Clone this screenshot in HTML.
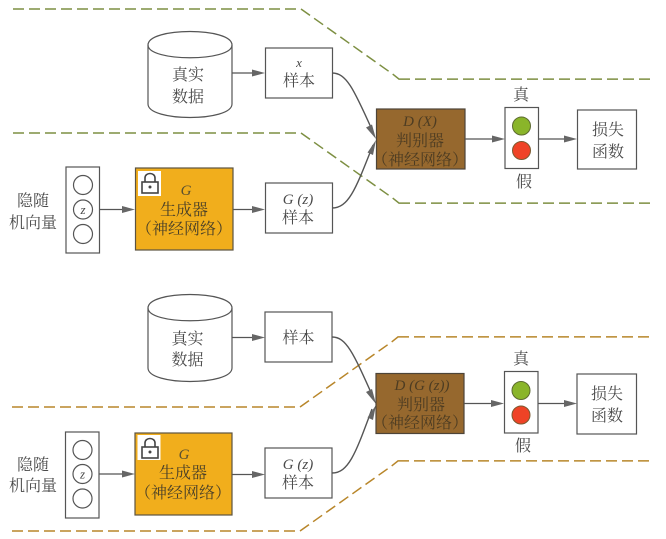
<!DOCTYPE html>
<html>
<head>
<meta charset="utf-8">
<style>
html,body{margin:0;padding:0;background:#fff;width:666px;height:539px;overflow:hidden}
svg{display:block;filter:blur(0.35px)}
text{font-family:"Liberation Serif","Noto Serif CJK SC",serif;text-anchor:middle;fill:#4a4a4a;font-size:16px}
.i{font-style:italic;font-size:15px}
.s{font-size:15px}
.b{fill:#fff;stroke:#555;stroke-width:1.2}
.l{stroke:#555;stroke-width:1.2;fill:none}
.ah{fill:#666;stroke:none}
</style>
</head>
<body>
<svg width="666" height="539" viewBox="0 0 666 539" xmlns="http://www.w3.org/2000/svg">
<rect width="666" height="539" fill="#fff"/>

<!-- dashed lines, drawn as explicit segments -->
<g fill="none" stroke-width="1.5">
<path stroke="#7d8f42" d="M13 9h11m5 0h11m5 0h11m5 0h11m5 0h11m5 0h11m5 0h11m5 0h11m5 0h11m5 0h11m5 0h11m5 0h11m5 0h11m5 0h11m5 0h11m5 0h11m5 0h11m5 0h11m5 0l9 6.4m4.100 2.900l9 6.400m4.100 2.900l9 6.400m4.100 2.900l9 6.400m4.100 2.900l9 6.400m4.100 2.900l9 6.400m4.100 2.900l9 6.400m4.100 2.900l6.300 5h11m5 0h11m5 0h11m5 0h11m5 0h11m5 0h11m5 0h11m5 0h11m5 0h11m5 0h11m5 0h11m5 0h11m5 0h11m5 0h11m5 0h11m5 0h11"/>
<path stroke="#7d8f42" d="M13 133h11m5 0h11m5 0h11m5 0h11m5 0h11m5 0h11m5 0h11m5 0h11m5 0h11m5 0h11m5 0h11m5 0h11m5 0h11m5 0h11m5 0h11m5 0h11m5 0h11m5 0h11m5 0l9 6.400m4.100 2.900l9 6.400m4.100 2.900l9 6.400m4.100 2.900l9 6.400m4.100 2.900l9 6.400m4.100 2.900l9 6.400m4.100 2.900l9 6.400m4.100 2.900l6.300 5h11m5 0h11m5 0h11m5 0h11m5 0h11m5 0h11m5 0h11m5 0h11m5 0h11m5 0h11m5 0h11m5 0h11m5 0h11m5 0h11m5 0h11m5 0h11"/>
<path stroke="#b8862a" d="M12 407h11m5 0h11m5 0h11m5 0h11m5 0h11m5 0h11m5 0h11m5 0h11m5 0h11m5 0h11m5 0h11m5 0h11m5 0h11m5 0h11m5 0h11m5 0h11m5 0h11m5 0h11m5 0l9 -6.400m4.100 -2.900l9 -6.400m4.100 -2.900l9 -6.400m4.100 -2.900l9 -6.400m4.100 -2.900l9 -6.400m4.100 -2.900l9 -6.400m4.100 -2.900l9 -6.400m4.100 -2.900l6.300 -5h11m5 0h11m5 0h11m5 0h11m5 0h11m5 0h11m5 0h11m5 0h11m5 0h11m5 0h11m5 0h11m5 0h11m5 0h11m5 0h11m5 0h11m5 0h11"/>
<path stroke="#b8862a" d="M12 531h11m5 0h11m5 0h11m5 0h11m5 0h11m5 0h11m5 0h11m5 0h11m5 0h11m5 0h11m5 0h11m5 0h11m5 0h11m5 0h11m5 0h11m5 0h11m5 0h11m5 0h11m5 0l9 -6.400m4.100 -2.900l9 -6.400m4.100 -2.900l9 -6.400m4.100 -2.900l9 -6.400m4.100 -2.900l9 -6.400m4.100 -2.900l9 -6.400m4.100 -2.900l9 -6.400m4.100 -2.900l6.300 -5h11m5 0h11m5 0h11m5 0h11m5 0h11m5 0h11m5 0h11m5 0h11m5 0h11m5 0h11m5 0h11m5 0h11m5 0h11m5 0h11m5 0h11m5 0h11"/>
</g>

<!-- TOP -->
<path class="b" d="M148 45C148 27 232 27 232 45V104C232 122 148 122 148 104Z"/>
<path class="l" d="M148 45C148 62 232 62 232 45"/>
<text x="188" y="80">真实</text>
<text x="188" y="102">数据</text>
<path class="l" d="M232 73H255"/><polygon class="ah" points="265,73 252,69.500 252,76.500"/>
<rect class="b" x="265.500" y="48" width="67" height="50"/>
<text class="i" x="299" y="67" style="font-size:13px">x</text>
<text x="299" y="86">样本</text>

<rect class="b" x="66" y="167" width="33.500" height="86"/>
<circle class="b" cx="83" cy="185" r="9.500"/>
<circle class="b" cx="83" cy="209.500" r="9.500"/>
<circle class="b" cx="83" cy="234" r="9.500"/>
<text class="i" x="83" y="214" style="font-size:13px">z</text>
<text x="33" y="206">隐随</text>
<text x="33" y="228">机向量</text>
<path class="l" d="M100 209.500H125"/><polygon class="ah" points="135,209.500 122,206 122,213"/>
<rect x="135.500" y="168" width="97.500" height="82" fill="#f1ae1c" stroke="#5c5340" stroke-width="1.200"/>
<rect x="138" y="171" width="23" height="25" fill="#fff"/>
<rect x="142" y="182" width="16" height="11" fill="none" stroke="#444" stroke-width="1.600"/>
<path d="M145 182V178C145 172 155 172 155 178V182" fill="none" stroke="#444" stroke-width="1.600"/>
<circle cx="150" cy="187" r="1.500" fill="#444"/>
<text class="i" x="186" y="195" style="fill:#5a5030">G</text>
<text x="184" y="215" style="fill:#4a4028">生成器</text>
<text x="184" y="234" style="fill:#4a4028">（神经网络）</text>
<path class="l" d="M233 209.500H255"/><polygon class="ah" points="265,209.500 252,206 252,213"/>
<rect class="b" x="265.500" y="183" width="67" height="50"/>
<text x="298" y="204" class="s" style="font-style:italic">G (z)</text>
<text x="298" y="223">样本</text>

<path class="l" d="M332 73C346 73 353 87 373 132" style="stroke-width:1.400"/>
<path class="l" d="M332 208C349 208 356 188 373 145" style="stroke-width:1.400"/>
<polygon class="ah" points="376,139 366,127.500 372,124.500"/>
<polygon class="ah" points="376,140 367.500,152.500 373,155"/>

<rect x="376.500" y="109" width="88.500" height="60" fill="#96682e" stroke="#4d4438" stroke-width="1.200"/>
<text class="i" x="420" y="126" style="fill:#4d3c22">D (X)</text>
<text x="420" y="146" style="fill:#4d3c22">判别器</text>
<text x="420" y="165" style="fill:#4d3c22">（神经网络）</text>
<path class="l" d="M465 139H495"/><polygon class="ah" points="505,139 492,135.500 492,142.500"/>
<rect class="b" x="505" y="107.500" width="33.500" height="61"/>
<circle cx="521.500" cy="126" r="9" fill="#8ab52a" stroke="#5d6b30" stroke-width="1"/>
<circle cx="521.500" cy="150.500" r="9" fill="#ef4326" stroke="#7c5a30" stroke-width="1"/>
<text x="521" y="100">真</text>
<text x="524" y="187">假</text>
<path class="l" d="M538.500 139H567"/><polygon class="ah" points="577,139 564,135.500 564,142.500"/>
<rect class="b" x="577.500" y="110" width="59" height="59"/>
<text x="608" y="135">损失</text>
<text x="608" y="157">函数</text>

<!-- BOTTOM -->
<path class="b" d="M148 308C148 290 232 290 232 308V368C232 386 148 386 148 368Z"/>
<path class="l" d="M148 308C148 325 232 325 232 308"/>
<text x="187.500" y="344">真实</text>
<text x="187.500" y="365">数据</text>
<path class="l" d="M232 337.500H255"/><polygon class="ah" points="265,337.500 252,334 252,341"/>
<rect class="b" x="265" y="312" width="67" height="50"/>
<text x="298.500" y="343">样本</text>

<rect class="b" x="65.500" y="432" width="33.500" height="86"/>
<circle class="b" cx="82.500" cy="450" r="9.500"/>
<circle class="b" cx="82.500" cy="474" r="9.500"/>
<circle class="b" cx="82.500" cy="498.500" r="9.500"/>
<text class="i" x="82.500" y="478.500" style="font-size:13px">z</text>
<text x="33" y="470">隐随</text>
<text x="33" y="491">机向量</text>
<path class="l" d="M99 474H125"/><polygon class="ah" points="135,474 122,470.500 122,477.500"/>
<rect x="135" y="433" width="97" height="82" fill="#f1ae1c" stroke="#5c5340" stroke-width="1.200"/>
<rect x="137.500" y="435" width="23" height="25" fill="#fff"/>
<rect x="142" y="447" width="16" height="11" fill="none" stroke="#444" stroke-width="1.600"/>
<path d="M145 447V443C145 437 155 437 155 443V447" fill="none" stroke="#444" stroke-width="1.600"/>
<circle cx="150" cy="452" r="1.500" fill="#444"/>
<text class="i" x="184" y="459" style="fill:#5a5030">G</text>
<text x="183" y="478" style="fill:#4a4028">生成器</text>
<text x="183" y="498" style="fill:#4a4028">（神经网络）</text>
<path class="l" d="M232 474.500H255"/><polygon class="ah" points="265,474.500 252,471 252,478"/>
<rect class="b" x="265" y="448" width="67" height="50"/>
<text x="298" y="469" class="s" style="font-style:italic">G (z)</text>
<text x="298" y="488">样本</text>

<path class="l" d="M332 337C346 337 353 352 373 397" style="stroke-width:1.400"/>
<path class="l" d="M332 473C349 473 356 452 372 409" style="stroke-width:1.400"/>
<polygon class="ah" points="376,404 366,392 372,389"/>
<polygon class="ah" points="376,405 367.500,417.500 373,420"/>

<rect x="376" y="373.500" width="88" height="60" fill="#96682e" stroke="#4d4438" stroke-width="1.200"/>
<text class="i" x="422" y="390" style="fill:#4d3c22">D (G (z))</text>
<text x="421" y="410" style="fill:#4d3c22">判别器</text>
<text x="420" y="428" style="fill:#4d3c22">（神经网络）</text>
<path class="l" d="M464 403.500H494"/><polygon class="ah" points="504,403.500 491,400 491,407"/>
<rect class="b" x="504.500" y="371.500" width="33.500" height="61.500"/>
<circle cx="521" cy="390.500" r="9" fill="#8ab52a" stroke="#5d6b30" stroke-width="1"/>
<circle cx="521" cy="415" r="9" fill="#ef4326" stroke="#7c5a30" stroke-width="1"/>
<text x="521" y="364">真</text>
<text x="523" y="451">假</text>
<path class="l" d="M538 403.500H567"/><polygon class="ah" points="577,403.500 564,400 564,407"/>
<rect class="b" x="577" y="374" width="59.500" height="60"/>
<text x="607" y="399">损失</text>
<text x="607" y="421">函数</text>
</svg>
</body>
</html>
